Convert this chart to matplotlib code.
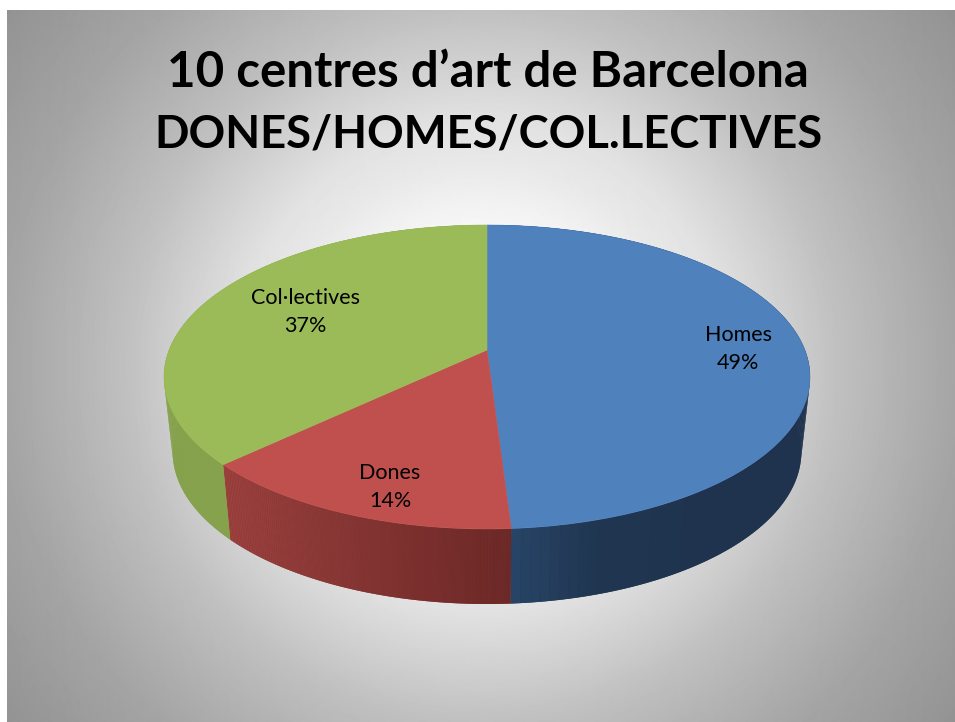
"""10 centres d'art de Barcelona: perspective 3D pie, PowerPoint style."""
import matplotlib

matplotlib.use("Agg")
import matplotlib.pyplot as plt  # noqa: E402
import numpy as np  # noqa: E402
from matplotlib.collections import PolyCollection  # noqa: E402
from matplotlib.colors import LinearSegmentedColormap  # noqa: E402
from matplotlib.path import Path  # noqa: E402
from matplotlib.transforms import Transform  # noqa: E402

title_lines = ["10 centres d’art de Barcelona", "DONES/HOMES/COL.LECTIVES"]
labels = ["Homes", "Dones", "Col·lectives"]
shares = [49, 14, 37]
top_colors = ["#4f81bd", "#c0504d", "#9bbb59"]
side_stops = [["#29476b", "#203650", "#1f334e", "#1f334e"],
              ["#9c413e", "#8a3836", "#7a2f2d", "#6a2826"],
              ["#86a24c", "#84a04a"]]
label_pos = [(738, 349), (390, 487), (305, 312)]

# background grey, by distance from its middle
bg_dist = [0, 148, 206, 244, 321, 356, 474, 592]
bg_grey = [253, 245, 232, 226, 203, 192, 165, 147]

CX, CY = 487, 350  # apex of the pie, in pixels
A, B, K = 147.2, 317.9, 0.1776  # perspective of the unit circle
DEPTH, SHRINK = 75, 0.973


class Tilt(Transform):
    """Unit pie circle -> slide pixels, with the far edge smaller."""
    input_dims = output_dims = 2

    def transform_non_affine(self, xy):
        xy = np.asarray(xy, float)
        w = 1 + K * xy[:, 1]
        return np.column_stack([CX + B * xy[:, 0] / w, CY - A * xy[:, 1] / w])

    def transform_path_non_affine(self, path):
        # flatten the wedge beziers first, control points don't survive a perspective map
        ts = np.linspace(0, 1, 16)
        pts = np.vstack([seg(ts) for seg, _ in path.iter_bezier()])
        return Path(self.transform_non_affine(pts))


tilt = Tilt()
fig = plt.figure(figsize=(9.55, 7.22), dpi=100)
ax = fig.add_axes([0, 0, 1, 1])

yy, xx = np.mgrid[10:722, 7:955]
grey = np.interp(np.hypot(xx - 481, yy - 366), bg_dist, bg_grey)
ax.imshow(grey, cmap="gray", vmin=0, vmax=255, extent=(7, 955, 722, 10), zorder=0, interpolation="bilinear")

wedges, _ = ax.pie(shares, startangle=90, counterclock=False, colors=top_colors, radius=1,
                   wedgeprops={"linewidth": 0.4, "zorder": 3})
for w, c in zip(wedges, top_colors):
    w.set_edgecolor(c)
    w.set_transform(tilt + ax.transData)

# rim: thin quads between the top circle and the same circle dropped and shrunk
for w, stops in zip(wedges, side_stops):
    th = np.radians(np.linspace(w.theta1, w.theta2, 120))
    top = tilt.transform_non_affine(np.column_stack([np.cos(th), np.sin(th)]))
    bot = np.column_stack([CX + (top[:, 0] - CX) * SHRINK, top[:, 1] + DEPTH])
    cmap = LinearSegmentedColormap.from_list("rim", stops)
    ax.fill(*np.vstack([top, bot[::-1]]).T, color=cmap(0.5), lw=0, zorder=1.5)
    quads = [[top[i], top[i + 1], bot[i + 1], bot[i]] for i in range(len(th) - 1)]
    xs = top[:, 0]
    t = (xs[:-1] - xs.min()) / (xs.max() - xs.min())
    ax.add_collection(PolyCollection(quads, facecolors=cmap(t), edgecolors="none", zorder=2))

for lab, s, (x, y) in zip(labels, shares, label_pos):
    ax.text(x, y, f"{lab}\n{s}%", ha="center", va="center", fontsize=15.5, family="Lato", linespacing=1.55, zorder=5)

for line, fs, y in zip(title_lines, [35.5, 32.7], [87, 148]):
    ax.text(488, y, line, ha="center", va="baseline", fontsize=fs, family="Lato", weight="bold", zorder=5)

ax.set_aspect("auto")
ax.set_xlim(0, 955)
ax.set_ylim(722, 0)
ax.axis("off")
fig.savefig("out.png", dpi=100, facecolor="white")
